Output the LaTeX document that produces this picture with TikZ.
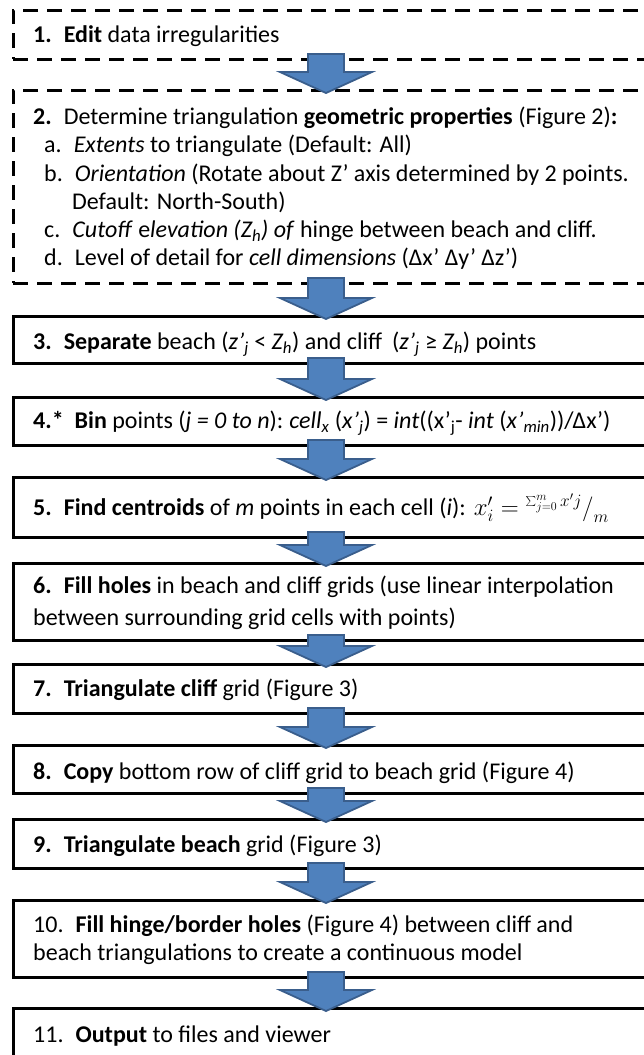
\documentclass[tikz,border=0pt]{standalone}
\usepackage{fontspec}
\setmainfont{Carlito}
\usetikzlibrary{calc}
\definecolor{arrowfill}{HTML}{4F81BD}
\definecolor{arrowedge}{HTML}{3A5E8C}
\newcommand{\fs}{\fontsize{24pt}{28pt}\selectfont}
\newcommand{\blockarrow}[2]{%
  \path (#1.south -| ax) coordinate (t) (#2.north -| ax) coordinate (b);
  \draw[blk] ($(t)+(-18pt,5pt)$) -- ($(t)+(18pt,5pt)$) -- ($(b)+(18pt,18pt)$)
    -- ($(b)+(46pt,18pt)$) -- ($(b)+(0,-3pt)$) -- ($(b)+(-46pt,18pt)$) -- ($(b)+(-18pt,18pt)$) -- cycle;}
\tikzset{
  sbox/.style={draw, line width=3pt, minimum width=660pt, minimum height=#1,
    anchor=north west, inner sep=0pt, outer sep=0pt},
  dbox/.style={sbox=#1, dash pattern=on 15pt off 9pt},
  txt/.style={anchor=west, align=left, inner sep=0pt, font=\fs},
  blk/.style={fill=arrowfill, draw=arrowedge, line width=1.8pt, line join=miter},
}
\begin{document}
\begin{tikzpicture}[x=1pt,y=1pt]
\useasboundingbox (0,0) rectangle (644,-1055);
\clip (0,0) rectangle (644,-1055);
\coordinate (ax) at (326,0);
% boxes
\node[dbox=49pt]  (b1)  at (13,-10)  {};
\node[dbox=193pt] (b2)  at (13,-90)  {};
\node[sbox=47pt]  (b3)  at (13,-316) {};
\node[sbox=48pt]  (b4)  at (13,-397) {};
\node[sbox=60pt]  (b5)  at (13,-477) {};
\node[sbox=77pt]  (b6)  at (13,-563) {};
\node[sbox=49pt]  (b7)  at (13,-664) {};
\node[sbox=48pt]  (b8)  at (13,-745) {};
\node[sbox=49pt]  (b9)  at (13,-819) {};
\node[sbox=77pt]  (b10) at (13,-900) {};
\node[sbox=60pt]  (b11) at (13,-1008) {};
% texts
\node[txt] (t1) at ($(b1.west)+(20,-2)$) {\textbf{1.}\hspace{12pt}\textbf{Edit} data irregularities};
\node[txt, anchor=north west, font=\fontsize{24pt}{28.2pt}\selectfont] (t2) at (33,-107) {%
\textbf{2.}\hspace{12pt}Determine triangulation \textbf{geometric properties} (Figure 2)\textbf{:}\\
\hspace{11pt}a.\hspace{12pt}\textit{Extents} to triangulate (Default: All)\\
\hspace{11pt}b.\hspace{12pt}\textit{Orientation} (Rotate about Z’ axis determined by 2 points.\\
\hspace{39pt}Default: North-South)\\
\hspace{11pt}c.\hspace{12pt}\textit{Cutoff} e\textit{levation (Z\textsubscript{h}) of} hinge between beach and cliff.\\
\hspace{11pt}d.\hspace{12pt}Level of detail for \textit{cell dimensions} (Δx’ Δy’ Δz’)};
\node[txt] (t3) at ($(b3.west)+(20,-5)$) {\textbf{3.}\hspace{12pt}\textbf{Separate} beach (\textit{z’\textsubscript{j}} < \textit{Z\textsubscript{h}}) and cliff\hspace{10pt}(\textit{z’\textsubscript{j}} ≥ \textit{Z\textsubscript{h}}) points};
\node[txt] (t4) at ($(b4.west)+(20,-2)$) {\textbf{4.*}\hspace{11pt}\textbf{Bin} points (\textit{j = 0 to n}):\hspace{6pt}\textit{cell\textsubscript{x}} (\textit{x’\textsubscript{j}}) = \textit{int}((x’\textsubscript{j}- \textit{int} (\textit{x’\textsubscript{min}}))/Δx’)};
\node[txt] (t5) at ($(b5.west)+(20,-1)$) {\textbf{5.}\hspace{12pt}\textbf{Find centroids} of \textit{m} points in each cell (\textit{i}):\hspace{8pt}$x'_i = {}^{\sum_{j=0}^{m} x'j}\big/_{m}$};
\node[txt, font=\fontsize{24pt}{32pt}\selectfont] (t6) at ($(b6.west)+(20,-1)$) {\textbf{6.}\hspace{12pt}\textbf{Fill holes} in beach and cliff grids (use linear interpolation\\between surrounding grid cells with points)};
\node[txt] (t7) at ($(b7.west)+(20,-1)$) {\textbf{7.}\hspace{12pt}\textbf{Triangulate cliff} grid (Figure 3)};
\node[txt] (t8) at ($(b8.west)+(20,-4)$) {\textbf{8.}\hspace{12pt}\textbf{Copy} bottom row of cliff grid to beach grid (Figure 4)};
\node[txt] (t9) at ($(b9.west)+(20,-2)$) {\textbf{9.}\hspace{12pt}\textbf{Triangulate beach} grid (Figure 3)};
\node[txt] (t10) at ($(b10.west)+(20,-1)$) {10.\hspace{12pt}\textbf{Fill hinge/border holes} (Figure 4) between cliff and\\beach triangulations to create a continuous model};
\node[txt] (t11) at ($(b11.north west)+(20,-28)$) {11.\hspace{12pt}\textbf{Output} to files and viewer};
% arrows
\blockarrow{b1}{b2}
\blockarrow{b2}{b3}
\blockarrow{b3}{b4}
\blockarrow{b4}{b5}
\blockarrow{b5}{b6}
\blockarrow{b6}{b7}
\blockarrow{b7}{b8}
\blockarrow{b8}{b9}
\blockarrow{b9}{b10}
\blockarrow{b10}{b11}
\end{tikzpicture}
\end{document}
